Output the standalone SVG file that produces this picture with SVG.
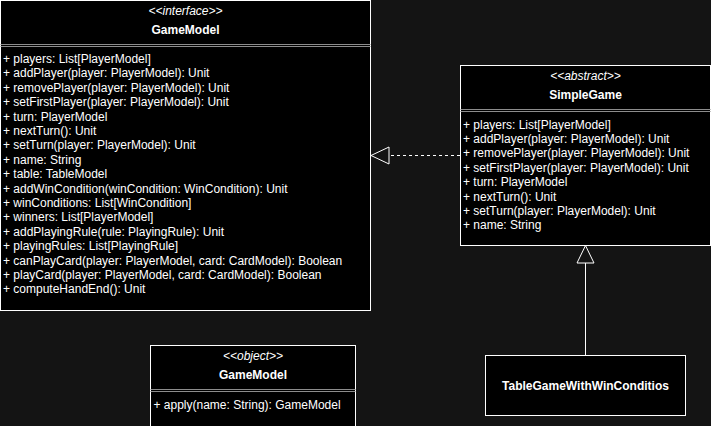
<svg xmlns="http://www.w3.org/2000/svg" width="711" height="426" viewBox="0 0 711 426">
<style>
  text { font-family: "Liberation Sans", Arial, sans-serif; font-size: 12px; fill: #ffffff; }
  .st { font-style: italic; text-anchor: middle; }
  .title { font-weight: bold; text-anchor: middle; }
  .box { fill: #000000; stroke: #ffffff; stroke-width: 1; }
  .sep { stroke: #8c8c8c; stroke-width: 1; }
  .edge { stroke: #ffffff; stroke-width: 1; fill: none; }
</style>
<rect width="711" height="426" fill="#141414"/>

<g id="connectors">
  <path class="edge" d="M460 155.5 L389 155.5" stroke-dasharray="3 3"/>
  <path class="edge" d="M389 147 L371 155.5 L389 164 Z"/>
  <path class="edge" d="M585.5 355.5 L585.5 263"/>
  <path class="edge" d="M585.5 245.5 L577 263 L594 263 Z"/>
</g>

<g id="GameModelInterface">
  <rect class="box" x="0.5" y="0.5" width="370" height="310"/>
  <line class="sep" x1="0.5" y1="44.5" x2="370.5" y2="44.5"/>
  <line class="sep" x1="0.5" y1="46.5" x2="370.5" y2="46.5"/>
  <text class="st" x="185.5" y="15">&lt;&lt;interface&gt;&gt;</text>
  <text class="title" x="185.5" y="33.5">GameModel</text>
  <text x="3" y="63">+ players: List[PlayerModel]</text>
  <text x="3" y="77.4">+ addPlayer(player: PlayerModel): Unit</text>
  <text x="3" y="91.8">+ removePlayer(player: PlayerModel): Unit</text>
  <text x="3" y="106.2">+ setFirstPlayer(player: PlayerModel): Unit</text>
  <text x="3" y="120.6">+ turn: PlayerModel</text>
  <text x="3" y="135">+ nextTurn(): Unit</text>
  <text x="3" y="149.4">+ setTurn(player: PlayerModel): Unit</text>
  <text x="3" y="163.8">+ name: String</text>
  <text x="3" y="178.2">+ table: TableModel</text>
  <text x="3" y="192.6">+ addWinCondition(winCondition: WinCondition): Unit</text>
  <text x="3" y="207">+ winConditions: List[WinCondition]</text>
  <text x="3" y="221.4">+ winners: List[PlayerModel]</text>
  <text x="3" y="235.8">+ addPlayingRule(rule: PlayingRule): Unit</text>
  <text x="3" y="250.2">+ playingRules: List[PlayingRule]</text>
  <text x="3" y="264.6">+ canPlayCard(player: PlayerModel, card: CardModel): Boolean</text>
  <text x="3" y="279">+ playCard(player: PlayerModel, card: CardModel): Boolean</text>
  <text x="3" y="293.4">+ computeHandEnd(): Unit</text>
</g>

<g id="SimpleGame">
  <rect class="box" x="460.5" y="65.5" width="250" height="180"/>
  <line class="sep" x1="460.5" y1="109.5" x2="710.5" y2="109.5"/>
  <line class="sep" x1="460.5" y1="111.5" x2="710.5" y2="111.5"/>
  <text class="st" x="585.5" y="80">&lt;&lt;abstract&gt;&gt;</text>
  <text class="title" x="585.5" y="98.5">SimpleGame</text>
  <text x="463" y="128.5">+ players: List[PlayerModel]</text>
  <text x="463" y="142.9">+ addPlayer(player: PlayerModel): Unit</text>
  <text x="463" y="157.3">+ removePlayer(player: PlayerModel): Unit</text>
  <text x="463" y="171.7">+ setFirstPlayer(player: PlayerModel): Unit</text>
  <text x="463" y="186.1">+ turn: PlayerModel</text>
  <text x="463" y="200.5">+ nextTurn(): Unit</text>
  <text x="463" y="214.9">+ setTurn(player: PlayerModel): Unit</text>
  <text x="463" y="229.3">+ name: String</text>
</g>

<g id="GameModelObject">
  <rect class="box" x="150.5" y="345.5" width="205" height="95"/>
  <line class="sep" x1="150.5" y1="389.5" x2="355.5" y2="389.5"/>
  <line class="sep" x1="150.5" y1="391.5" x2="355.5" y2="391.5"/>
  <text class="st" x="253" y="360">&lt;&lt;object&gt;&gt;</text>
  <text class="title" x="253" y="378.5">GameModel</text>
  <text x="153.5" y="408.5">+ apply(name: String): GameModel</text>
</g>

<g id="TableGameWithWinConditios">
  <rect class="box" x="485.5" y="355.5" width="200" height="60"/>
  <text class="title" x="585.5" y="389.5">TableGameWithWinConditios</text>
</g>
</svg>
